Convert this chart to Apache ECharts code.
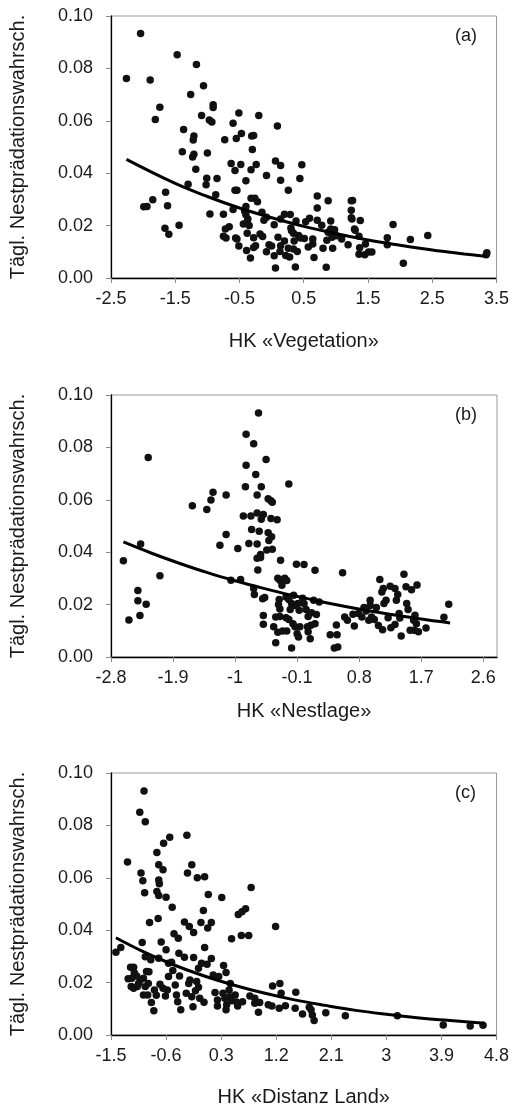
<!DOCTYPE html>
<html>
<head>
<meta charset="utf-8">
<script src="https://cdn.jsdelivr.net/npm/echarts@6/dist/echarts.min.js"></script>
<style>
  html, body { margin: 0; padding: 0; background: #fff; }
  #chart { width: 512px; height: 1109px; }
</style>
</head>
<body>
<div id="chart"></div>
<script>
// Daily nest predation probability against three principal components (HK)

// (a) HK «Vegetation»: observed nests [x, y]
const vegetationPoints = [
  [-2.26,0.0761],[-2.04,0.0933],[-1.89,0.0756],[-1.74,0.0652],[-1.81,0.0605],[-1.99,0.0272],[-1.94,0.0273],
  [-1.85,0.0299],[-1.65,0.0327],[-1.62,0.0276],[-1.66,0.0190],[-1.60,0.0167],[-1.44,0.0201],[-1.47,0.0852],
  [-1.17,0.0815],[-1.26,0.0700],[-1.06,0.0734],[-1.37,0.0567],[-1.09,0.0620],[-1.21,0.0542],[-1.22,0.0527],
  [-1.39,0.0482],[-1.21,0.0472],[-1.23,0.0462],[-1.18,0.0415],[-1.30,0.0358],[-0.91,0.0661],[-0.91,0.0651],
  [-0.97,0.0603],[-0.93,0.0595],[-1.00,0.0477],[-1.01,0.0381],[-1.02,0.0356],[-0.85,0.0380],[-0.87,0.0318],
  [-0.96,0.0244],[-0.73,0.0528],[-0.60,0.0591],[-0.51,0.0630],[-0.55,0.0532],[-0.47,0.0552],[-0.63,0.0437],
  [-0.57,0.0410],[-0.48,0.0433],[-0.57,0.0335],[-0.54,0.0335],[-0.40,0.0371],[-0.75,0.0243],[-0.60,0.0261],
  [-0.72,0.0187],[-0.66,0.0196],[-0.75,0.0159],[-0.71,0.0153],[-0.56,0.0153],[-0.54,0.0149],[-0.51,0.0122],
  [-0.31,0.0542],[-0.28,0.0544],[-0.20,0.0620],[-0.30,0.0490],[-0.32,0.0413],[-0.24,0.0433],[-0.32,0.0304],
  [-0.26,0.0304],[-0.22,0.0291],[-0.40,0.0273],[-0.42,0.0256],[-0.40,0.0241],[-0.37,0.0225],[-0.44,0.0206],
  [-0.38,0.0215],[-0.35,0.0200],[-0.38,0.0171],[-0.28,0.0154],[-0.39,0.0105],[-0.33,0.0076],[-0.25,0.0123],
  [-0.28,0.0116],[-0.18,0.0168],[-0.14,0.0158],[-0.15,0.0251],[-0.12,0.0220],[-0.08,0.0232],[-0.08,0.0391],
  [0.09,0.0580],[0.06,0.0447],[0.14,0.0429],[0.14,0.0373],[0.26,0.0335],[0.04,0.0203],[0.10,0.0156],
  [-0.04,0.0127],[0.00,0.0122],[-0.08,0.0100],[0.04,0.0085],[0.06,0.0038],[0.14,0.0123],[0.13,0.0101],
  [0.20,0.0141],[0.20,0.0243],[0.29,0.0242],[0.14,0.0225],[0.30,0.0191],[0.31,0.0180],[0.26,0.0114],
  [0.28,0.0080],[0.22,0.0086],[0.37,0.0042],[0.35,0.0141],[0.40,0.0101],[0.34,0.0111],[0.38,0.0218],
  [0.34,0.0171],[0.42,0.0162],[0.45,0.0153],[0.51,0.0151],[0.47,0.0432],[0.44,0.0380],[0.53,0.0215],
  [0.59,0.0228],[0.57,0.0118],[0.64,0.0130],[0.66,0.0078],[0.64,0.0149],[0.71,0.0313],[0.71,0.0267],
  [0.71,0.0220],[0.78,0.0201],[0.88,0.0295],[0.92,0.0218],[0.80,0.0114],[0.85,0.0041],[0.86,0.0144],
  [0.88,0.0175],[0.92,0.0187],[0.96,0.0168],[0.98,0.0184],[0.95,0.0114],[0.94,0.0156],[1.01,0.0161],
  [1.09,0.0149],[1.19,0.0127],[1.24,0.0295],[1.26,0.0296],[1.24,0.0259],[1.24,0.0230],[1.25,0.0225],
  [1.29,0.0187],[1.30,0.0182],[1.38,0.0219],[1.36,0.0159],[1.37,0.0115],[1.36,0.0091],[1.46,0.0130],
  [1.45,0.0089],[1.51,0.0099],[1.56,0.0099],[1.80,0.0154],[1.80,0.0127],[1.89,0.0204],[2.05,0.0056],
  [2.16,0.0147],[2.43,0.0162],[3.35,0.0096],[3.34,0.0089]
];
// fitted curve (a)
const vegetationCurve = [
  [-2.26,0.0453],[-1.5,0.0361],[-1.0,0.0311],[-0.5,0.0267],[0.0,0.0230],[0.5,0.0197],
  [1.0,0.0170],[1.5,0.0145],[2.0,0.0125],[2.5,0.0107],[3.0,0.0092],[3.35,0.0082]
];

// (b) HK «Nestlage»
const nestlagePoints = [
  [-2.62,0.0367],[-2.54,0.0141],[-2.41,0.0254],[-2.41,0.0215],[-2.38,0.0158],[-2.37,0.0431],[-2.29,0.0201],
  [-2.26,0.0761],[-2.09,0.0310],[-1.62,0.0577],[-1.41,0.0563],[-1.35,0.0599],[-1.32,0.0629],[-1.13,0.0618],
  [-1.22,0.0427],[-1.13,0.0468],[-1.06,0.0293],[-0.96,0.0414],[-0.92,0.0296],[-0.85,0.0650],[-0.84,0.0850],
  [-0.84,0.0732],[-0.88,0.0538],[-0.77,0.0538],[-0.73,0.0814],[-0.70,0.0697],[-0.66,0.0931],[-0.68,0.0618],
  [-0.62,0.0650],[-0.55,0.0754],[-0.68,0.0550],[-0.59,0.0544],[-0.62,0.0526],[-0.76,0.0487],[-0.65,0.0480],
  [-0.80,0.0433],[-0.68,0.0431],[-0.52,0.0604],[-0.48,0.0596],[-0.46,0.0591],[-0.48,0.0529],[-0.39,0.0524],
  [-0.52,0.0474],[-0.47,0.0459],[-0.51,0.0445],[-0.54,0.0408],[-0.46,0.0411],[-0.63,0.0391],[-0.68,0.0377],
  [-0.63,0.0380],[-0.67,0.0332],[-0.22,0.0660],[-0.34,0.0369],[-0.11,0.0354],[0.00,0.0353],[0.16,0.0331],
  [-0.73,0.0261],[-0.72,0.0239],[-0.60,0.0222],[-0.57,0.0227],[-0.59,0.0158],[-0.59,0.0125],[-0.38,0.0301],
  [-0.35,0.0293],[-0.28,0.0301],[-0.25,0.0292],[-0.32,0.0274],[-0.36,0.0219],[-0.37,0.0200],[-0.35,0.0183],
  [-0.41,0.0153],[-0.35,0.0155],[-0.26,0.0150],[-0.22,0.0143],[-0.44,0.0115],[-0.38,0.0094],[-0.31,0.0099],
  [-0.25,0.0099],[-0.41,0.0054],[-0.18,0.0034],[-0.26,0.0229],[-0.22,0.0219],[-0.15,0.0236],[-0.18,0.0204],
  [-0.13,0.0197],[-0.09,0.0204],[-0.07,0.0178],[-0.20,0.0181],[-0.16,0.0127],[-0.13,0.0115],[-0.10,0.0089],
  [-0.06,0.0115],[-0.08,0.0076],[-0.02,0.0224],[0.00,0.0204],[0.03,0.0181],[0.06,0.0155],[0.11,0.0169],
  [0.05,0.0115],[0.10,0.0121],[0.06,0.0096],[0.09,0.0070],[0.14,0.0217],[0.18,0.0162],[0.16,0.0127],
  [0.22,0.0210],[0.38,0.0085],[0.47,0.0122],[0.48,0.0085],[0.44,0.0034],[0.49,0.0038],[0.56,0.0322],
  [0.59,0.0153],[0.63,0.0140],[0.73,0.0118],[0.71,0.0163],[0.79,0.0166],[0.84,0.0153],[0.87,0.0189],
  [0.90,0.0176],[0.94,0.0140],[0.96,0.0217],[0.96,0.0197],[1.02,0.0143],[1.05,0.0189],[1.10,0.0296],
  [1.08,0.0120],[1.14,0.0104],[1.13,0.0248],[1.15,0.0261],[1.19,0.0217],[1.16,0.0204],[1.25,0.0270],
  [1.22,0.0150],[1.26,0.0112],[1.32,0.0124],[1.32,0.0261],[1.34,0.0217],[1.36,0.0239],[1.38,0.0166],
  [1.41,0.0080],[1.45,0.0316],[1.48,0.0268],[1.49,0.0204],[1.51,0.0181],[1.56,0.0257],[1.64,0.0275],
  [1.61,0.0159],[1.54,0.0102],[1.60,0.0102],[1.63,0.0127],[1.66,0.0096],[1.77,0.0111],[2.03,0.0152],
  [2.10,0.0201],[1.59,0.0140],[1.39,0.0149],[0.98,0.0153]
];
const nestlageCurve = [
  [-2.62,0.0439],[-2.2,0.0395],[-1.8,0.0357],[-1.4,0.0322],[-1.0,0.0291],[-0.6,0.0263],[-0.2,0.0237],
  [0.2,0.0214],[0.6,0.0193],[1.0,0.0174],[1.4,0.0157],[1.8,0.0141],[2.12,0.0130]
];

// (c) HK «Distanz Land»
const distanzPoints = [
  [-1.42,0.0316],[-1.34,0.0334],[-1.23,0.0660],[-1.18,0.0259],[-1.13,0.0259],[-1.22,0.0215],[-1.16,0.0217],
  [-1.12,0.0238],[-1.13,0.0178],[-1.08,0.0225],[-1.03,0.0850],[-0.96,0.0931],[-0.94,0.0814],[-1.01,0.0618],
  [-0.98,0.0589],[-0.95,0.0543],[-0.99,0.0353],[-0.94,0.0299],[-1.02,0.0210],[-0.97,0.0217],[-0.92,0.0242],
  [-0.88,0.0241],[-0.97,0.0153],[-0.90,0.0153],[-0.94,0.0185],[-0.89,0.0197],[-0.87,0.0429],[-0.85,0.0287],
  [-0.84,0.0124],[-0.80,0.0093],[-0.76,0.0152],[-0.75,0.0697],[-0.72,0.0650],[-0.72,0.0592],[-0.71,0.0577],
  [-0.75,0.0548],[-0.72,0.0532],[-0.73,0.0445],[-0.72,0.0293],[-0.68,0.0355],[-0.65,0.0631],[-0.64,0.0732],
  [-0.54,0.0755],[-0.60,0.0526],[-0.60,0.0325],[-0.70,0.0194],[-0.65,0.0178],[-0.61,0.0149],[-0.58,0.0172],
  [-0.56,0.0274],[-0.50,0.0488],[-0.51,0.0278],[-0.49,0.0246],[-0.56,0.0223],[-0.47,0.0386],[-0.40,0.0369],
  [-0.45,0.0191],[-0.43,0.0153],[-0.41,0.0127],[-0.36,0.0096],[-0.39,0.0312],[-0.38,0.0225],[-0.30,0.0431],
  [-0.30,0.0297],[-0.26,0.0762],[-0.25,0.0618],[-0.18,0.0650],[-0.22,0.0414],[-0.15,0.0391],[-0.15,0.0296],
  [-0.27,0.0159],[-0.23,0.0197],[-0.21,0.0210],[-0.18,0.0146],[-0.16,0.0108],[-0.09,0.0600],[0.03,0.0604],
  [0.09,0.0536],[0.01,0.0475],[-0.03,0.0429],[0.03,0.0334],[0.08,0.0408],[0.14,0.0429],[0.07,0.0270],
  [0.14,0.0292],[-0.07,0.0255],[-0.02,0.0274],[-0.10,0.0204],[-0.07,0.0182],[-0.12,0.0169],[-0.05,0.0140],
  [0.02,0.0125],[0.31,0.0525],[0.17,0.0229],[0.26,0.0223],[0.20,0.0162],[0.24,0.0134],[0.24,0.0111],
  [0.34,0.0265],[0.38,0.0239],[0.47,0.0367],[0.58,0.0460],[0.64,0.0470],[0.70,0.0482],[0.63,0.0380],
  [0.75,0.0380],[0.79,0.0563],[0.33,0.0159],[0.36,0.0140],[0.39,0.0115],[0.38,0.0096],[0.45,0.0197],
  [0.44,0.0146],[0.47,0.0131],[0.53,0.0153],[0.57,0.0111],[0.65,0.0127],[0.77,0.0149],[0.85,0.0140],
  [0.85,0.0121],[0.91,0.0087],[0.93,0.0124],[1.07,0.0115],[1.13,0.0111],[1.14,0.0187],[1.19,0.0414],
  [1.26,0.0197],[1.28,0.0159],[1.25,0.0102],[1.35,0.0112],[1.52,0.0163],[1.51,0.0102],[1.63,0.0080],
  [1.74,0.0106],[1.77,0.0096],[1.79,0.0076],[1.82,0.0055],[2.01,0.0085],[2.33,0.0073],[3.18,0.0073],
  [3.93,0.0038],[4.37,0.0034],[4.58,0.0037],[-1.17,0.0185],[-1.05,0.0197],[-0.79,0.0172],[-1.07,0.0185],
  [0.43,0.0172],[0.55,0.0126]
];
const distanzCurve = [
  [-1.42,0.0371],[-1.0,0.0321],[-0.5,0.0270],[0.0,0.0227],[0.5,0.0191],[1.0,0.0160],[1.5,0.0134],
  [2.0,0.0113],[2.5,0.0094],[3.0,0.0079],[3.5,0.0066],[4.0,0.0056],[4.6,0.0045]
];

// tick values of the three x axes
const vegetationTicks = [-2.5, -1.5, -0.5, 0.5, 1.5, 2.5, 3.5];
const nestlageTicks = [-2.8, -1.9, -1, -0.1, 0.8, 1.7, 2.6];
const distanzTicks = [-1.5, -0.6, 0.3, 1.2, 2.1, 3, 3.9, 4.8];

const yTitle = 'Tägl. Nestprädationswahrsch.';
const panels = [
  { tag: '(a)', xName: 'HK «Vegetation»', ticks: vegetationTicks, min: -2.5, max: 3.5,
    pts: vegetationPoints, curve: vegetationCurve, top: 16, nameGap: 53 },
  { tag: '(b)', xName: 'HK «Nestlage»', ticks: nestlageTicks, min: -2.8, max: 2.8,
    pts: nestlagePoints, curve: nestlageCurve, top: 395, nameGap: 44 },
  { tag: '(c)', xName: 'HK «Distanz Land»', ticks: distanzTicks, min: -1.5, max: 4.8,
    pts: distanzPoints, curve: distanzCurve, top: 773, nameGap: 52 }
];

const FONT = '"Liberation Sans", Arial, sans-serif';
const GRID_H = 262;
const grid = [], xAxis = [], yAxis = [], series = [], graphic = [];

panels.forEach((p, i) => {
  grid.push({ left: 110, right: 15, top: p.top, height: GRID_H,
    show: true, borderColor: '#9a9a9a', borderWidth: 1, containLabel: false });
  xAxis.push({
    gridIndex: i, type: 'value', min: p.min, max: p.max,
    name: p.xName, nameLocation: 'middle', nameGap: p.nameGap,
    nameTextStyle: { fontFamily: FONT, fontSize: 20, color: '#1a1a1a' },
    axisLine: { show: true, onZero: false, lineStyle: { color: '#000', width: 1.3 } },
    axisTick: { show: true, inside: false, length: 5, customValues: p.ticks,
      lineStyle: { color: '#8a8a8a', width: 1 } },
    axisLabel: { customValues: p.ticks, margin: 12, fontFamily: FONT, fontSize: 18, color: '#1a1a1a',
      formatter: v => String(+v.toFixed(2)) },
    splitLine: { show: false }
  });
  yAxis.push({
    gridIndex: i, type: 'value', min: 0, max: 0.1, interval: 0.02,
    name: yTitle, nameLocation: 'middle', nameGap: 83,
    nameTextStyle: { fontFamily: FONT, fontSize: 20, color: '#1a1a1a' },
    axisLine: { show: true, onZero: false, lineStyle: { color: '#000', width: 1.3 } },
    axisTick: { show: true, inside: false, length: 5, lineStyle: { color: '#8a8a8a', width: 1 } },
    axisLabel: { margin: 18, fontFamily: FONT, fontSize: 18, color: '#1a1a1a',
      formatter: v => v.toFixed(2) },
    splitLine: { show: false }
  });
  series.push({
    type: 'scatter', xAxisIndex: i, yAxisIndex: i, data: p.pts,
    symbol: 'circle', symbolSize: 7.5, itemStyle: { color: '#111', opacity: 1 },
    silent: true, z: 2
  });
  series.push({
    type: 'line', xAxisIndex: i, yAxisIndex: i, data: p.curve, smooth: 0.4,
    showSymbol: false, lineStyle: { color: '#000', width: 3 }, silent: true, z: 3
  });
  graphic.push({
    type: 'text', left: 455, top: p.top + 11,
    style: { text: p.tag, fontFamily: FONT, fontSize: 18, fill: '#1a1a1a' }
  });
});

const chart = echarts.init(document.getElementById('chart'), null, { renderer: 'canvas' });
chart.setOption({
  animation: false,
  backgroundColor: '#fff',
  grid, xAxis, yAxis, series, graphic
});
</script>
</body>
</html>
